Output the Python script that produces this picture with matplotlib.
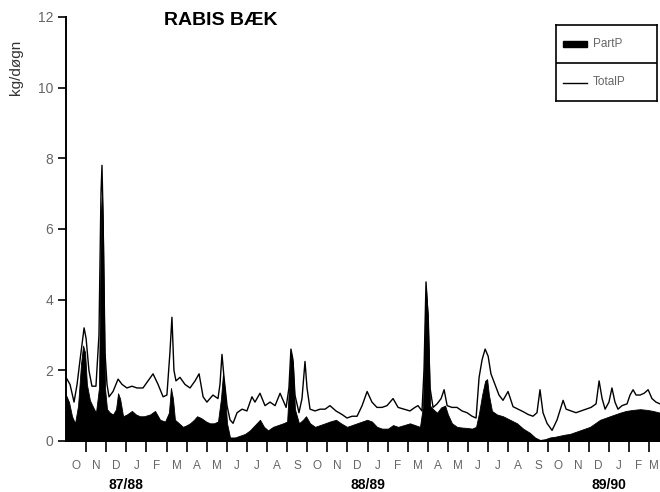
"""
Rabis Baek - phosphorus transport 87/88 - 89/90
"""
import matplotlib
matplotlib.use('Agg')
from matplotlib import pyplot as plt
import matplotlib.patches as patches
from matplotlib.lines import Line2D

# Data: months counted from 1 Oct 1987, values in kg/day
total_month = [0.00, 0.20, 0.40, 0.55, 0.70, 0.90, 1.00, 1.14, 1.29, 1.49,
               1.64, 1.74, 1.79, 1.84, 1.94, 2.04, 2.14, 2.34, 2.59, 2.79,
               3.03, 3.28, 3.53, 3.83, 4.08, 4.33, 4.58, 4.83, 5.02, 5.17,
               5.27, 5.37, 5.47, 5.67, 5.92, 6.17, 6.42, 6.62, 6.82, 7.01,
               7.31, 7.56, 7.66, 7.76, 7.86, 8.01, 8.16, 8.31, 8.51, 8.76,
               9.00, 9.25, 9.40, 9.65, 9.90, 10.15, 10.40, 10.65, 10.95, 11.09,
               11.19, 11.29, 11.39, 11.59, 11.74, 11.89, 11.99, 12.14, 12.39, 12.64,
               12.89, 13.13, 13.43, 13.73, 13.98, 14.23, 14.48, 14.73, 14.98, 15.22,
               15.47, 15.72, 15.97, 16.27, 16.52, 16.82, 17.11, 17.36, 17.51, 17.71,
               17.81, 17.91, 18.01, 18.11, 18.26, 18.46, 18.66, 18.81, 18.96, 19.20,
               19.45, 19.70, 19.95, 20.20, 20.40, 20.55, 20.70, 20.85, 21.00, 21.14,
               21.34, 21.54, 21.74, 21.99, 22.24, 22.49, 22.74, 22.99, 23.23, 23.43,
               23.58, 23.73, 23.93, 24.18, 24.43, 24.73, 24.88, 25.12, 25.37, 25.62,
               25.87, 26.12, 26.37, 26.52, 26.67, 26.82, 27.01, 27.16, 27.31, 27.46,
               27.66, 27.91, 28.06, 28.21, 28.36, 28.56, 28.76, 28.96, 29.15, 29.35,
               29.55]
total_p = [1.80, 1.60, 1.10, 1.60, 2.30, 3.20, 2.90, 2.00, 1.55, 1.55,
           3.00, 7.00, 7.80, 6.50, 2.50, 1.60, 1.25, 1.40, 1.75, 1.60,
           1.50, 1.55, 1.50, 1.50, 1.70, 1.90, 1.60, 1.25, 1.30, 2.50,
           3.50, 2.00, 1.70, 1.80, 1.60, 1.50, 1.70, 1.90, 1.25, 1.10,
           1.30, 1.20, 1.60, 2.45, 1.80, 1.00, 0.60, 0.50, 0.80, 0.90,
           0.85, 1.25, 1.10, 1.35, 1.00, 1.10, 1.00, 1.35, 0.95, 1.50,
           2.60, 2.30, 1.30, 0.80, 1.20, 2.25, 1.50, 0.90, 0.85, 0.90,
           0.90, 1.00, 0.85, 0.75, 0.65, 0.70, 0.70, 1.00, 1.40, 1.10,
           0.95, 0.95, 1.00, 1.20, 0.95, 0.90, 0.85, 0.95, 1.00, 0.85,
           2.00, 4.50, 3.50, 1.50, 0.95, 1.05, 1.20, 1.45, 1.00, 0.95,
           0.95, 0.85, 0.80, 0.70, 0.65, 1.80, 2.30, 2.60, 2.40, 1.90,
           1.60, 1.30, 1.15, 1.40, 0.97, 0.90, 0.83, 0.75, 0.70, 0.80,
           1.45, 0.80, 0.50, 0.30, 0.60, 1.15, 0.90, 0.85, 0.80, 0.85,
           0.90, 0.95, 1.05, 1.70, 1.20, 0.90, 1.10, 1.50, 1.10, 0.90,
           1.00, 1.05, 1.30, 1.45, 1.30, 1.30, 1.35, 1.45, 1.20, 1.10,
           1.05]

part_month = [0.00, 0.15, 0.30, 0.45, 0.60, 0.75, 0.85, 0.95, 1.04, 1.19,
              1.34, 1.49, 1.64, 1.74, 1.79, 1.84, 1.94, 2.04, 2.19, 2.34,
              2.49, 2.59, 2.69, 2.84, 3.03, 3.28, 3.48, 3.68, 3.88, 4.18,
              4.43, 4.68, 4.93, 5.12, 5.22, 5.32, 5.42, 5.62, 5.82, 6.02,
              6.17, 6.37, 6.52, 6.72, 6.97, 7.16, 7.36, 7.56, 7.71, 7.81,
              7.91, 8.01, 8.16, 8.41, 8.66, 8.91, 9.15, 9.40, 9.65, 9.85,
              10.05, 10.30, 10.55, 10.80, 11.00, 11.09, 11.19, 11.29, 11.39, 11.59,
              11.79, 11.94, 12.14, 12.39, 12.64, 12.89, 13.13, 13.43, 13.68, 13.98,
              14.23, 14.48, 14.73, 14.98, 15.22, 15.47, 15.72, 16.02, 16.27, 16.52,
              16.82, 17.11, 17.36, 17.61, 17.76, 17.86, 17.91, 18.01, 18.11, 18.26,
              18.46, 18.66, 18.86, 19.00, 19.20, 19.45, 19.70, 19.95, 20.20, 20.40,
              20.55, 20.70, 20.85, 20.95, 21.04, 21.19, 21.44, 21.74, 22.09, 22.44,
              22.74, 23.08, 23.33, 23.58, 23.83, 24.08, 24.33, 24.58, 24.83, 25.07,
              25.32, 25.57, 25.82, 26.07, 26.32, 26.57, 26.82, 27.06, 27.31, 27.56,
              27.86, 28.21, 28.56, 28.91, 29.20, 29.55]
part_p = [1.30, 1.10, 0.70, 0.50, 1.00, 2.20, 2.70, 2.50, 1.60, 1.15,
          0.97, 0.80, 1.50, 6.50, 7.00, 6.00, 1.50, 0.90, 0.80, 0.75,
          0.90, 1.35, 1.20, 0.70, 0.75, 0.85, 0.75, 0.70, 0.70, 0.75,
          0.85, 0.60, 0.55, 0.80, 1.50, 1.20, 0.60, 0.50, 0.40, 0.45,
          0.50, 0.60, 0.70, 0.65, 0.55, 0.50, 0.50, 0.55, 1.20, 1.90,
          1.40, 0.50, 0.10, 0.10, 0.15, 0.20, 0.30, 0.45, 0.60, 0.40,
          0.30, 0.40, 0.45, 0.50, 0.55, 1.50, 2.50, 2.20, 0.90, 0.50,
          0.60, 0.70, 0.50, 0.40, 0.45, 0.50, 0.55, 0.60, 0.50, 0.40,
          0.45, 0.50, 0.55, 0.60, 0.55, 0.40, 0.35, 0.35, 0.45, 0.40,
          0.45, 0.50, 0.45, 0.40, 1.00, 3.50, 4.30, 3.50, 1.00, 0.90,
          0.80, 0.95, 1.00, 0.75, 0.50, 0.40, 0.38, 0.37, 0.35, 0.40,
          0.80, 1.30, 1.70, 1.75, 1.30, 0.85, 0.75, 0.70, 0.60, 0.50,
          0.35, 0.23, 0.10, 0.03, 0.05, 0.10, 0.12, 0.15, 0.18, 0.20,
          0.25, 0.30, 0.35, 0.40, 0.50, 0.60, 0.65, 0.70, 0.75, 0.80,
          0.85, 0.88, 0.90, 0.88, 0.85, 0.80]

month_labels = ['O', 'N', 'D', 'J', 'F', 'M', 'A', 'M', 'J', 'J', 'A', 'S',
                'O', 'N', 'D', 'J', 'F', 'M', 'A', 'M', 'J', 'J', 'A', 'S',
                'O', 'N', 'D', 'J', 'F', 'M']
season_labels = ['87/88', '88/89', '89/90']
season_pos = [3, 15, 27]

plt.rcParams['font.family'] = ['Liberation Sans', 'DejaVu Sans']

# Plot graph:
fig = plt.figure(figsize=(6.6, 4.92), dpi=100)
ax = fig.add_axes([0.1, 0.1037, 0.9, 0.862])

ax.fill_between(part_month, part_p, 0, color='black', linewidth=0.6, zorder=2)
ax.plot(total_month, total_p, color='black', linewidth=1.0, zorder=3)

ax.set_xlim(0, 29.55)
ax.set_ylim(0, 12)

ax.spines['top'].set_visible(False)
ax.spines['right'].set_visible(False)
ax.spines['left'].set_linewidth(1.4)
ax.spines['bottom'].set_linewidth(1.4)

# y axis
ax.set_yticks([0, 2, 4, 6, 8, 10, 12])
ax.tick_params(axis='y', direction='out', length=6, width=1.2,
               labelsize=10, labelcolor='#666666', pad=3)
ax.set_ylabel('kg/døgn', fontsize=11, color='#333333')
ax.yaxis.set_label_coords(-0.072, 0.88)

# x axis: ticks at the month boundaries, letters in between
ax.set_xticks(range(1, len(month_labels)))
ax.set_xticklabels([])
ax.tick_params(axis='x', direction='out', length=8, width=1.2)
for i, lab in enumerate(month_labels):
    ax.text(min(i + 0.5, 29.25), -0.06, lab, transform=ax.get_xaxis_transform(),
            ha='center', va='center', fontsize=8.5, color='#666666',
            clip_on=False)
for pos, lab in zip(season_pos, season_labels):
    ax.text(pos, -0.103, lab, transform=ax.get_xaxis_transform(),
            ha='center', va='center', fontsize=10, fontweight='bold',
            clip_on=False)

# Title
fig.text(0.335, 0.958, 'RABIS BÆK', ha='center', va='center',
         fontsize=14, fontweight='bold')

# Legend box
lax = fig.add_axes([0.842, 0.795, 0.153, 0.155])
lax.set_xlim(0, 1)
lax.set_ylim(0, 2)
lax.set_xticks([])
lax.set_yticks([])
for s in lax.spines.values():
    s.set_linewidth(1.2)
lax.axhline(1, color='black', linewidth=1.2)
lax.add_patch(patches.Rectangle((0.07, 1.42), 0.24, 0.16, color='black'))
lax.add_line(Line2D([0.07, 0.31], [0.48, 0.48], color='black', linewidth=1.0))
lax.text(0.37, 1.5, 'PartP', va='center', fontsize=8.5, color='#666666')
lax.text(0.37, 0.5, 'TotalP', va='center', fontsize=8.5, color='#666666')

plt.savefig('out.png', dpi=100)
